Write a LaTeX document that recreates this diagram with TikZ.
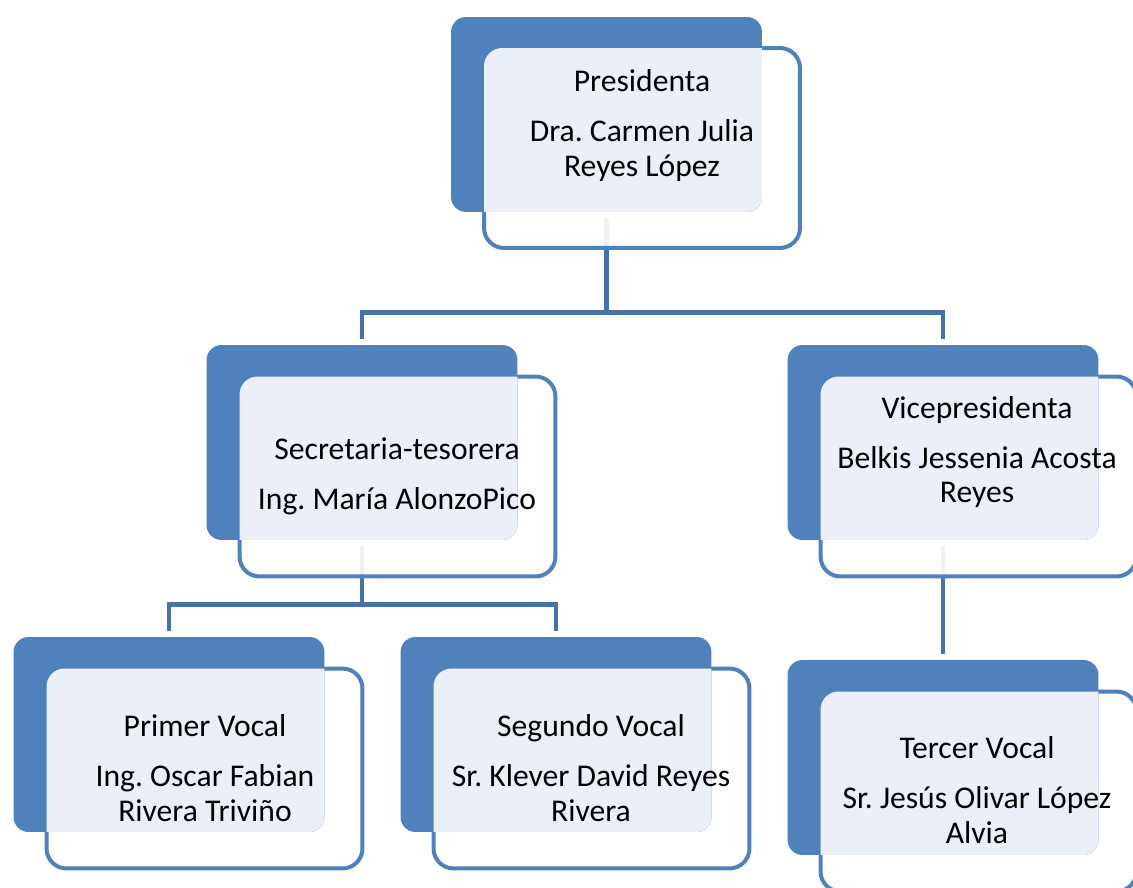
\documentclass[tikz,border=0pt]{standalone}
\usepackage{fontspec}
\setmainfont{Carlito}
\usepackage{tikz}
\usetikzlibrary{positioning,backgrounds,calc}
\definecolor{boxblue}{RGB}{79,129,189}
\definecolor{lightblue}{RGB}{235,240,248}
\definecolor{linkblue}{RGB}{70,114,168}
\frenchspacing
\tikzset{%
  cardback/.style={rectangle, rounded corners=0.3cm, fill=boxblue, inner sep=0pt,
    minimum width=6.22cm, minimum height=3.9cm},% dark card behind
  cardfront/.style={rectangle, rounded corners=0.4cm, draw=boxblue, line width=0.08cm,
    fill=white, fill opacity=0.9, inner sep=0pt,
    minimum width=6.32cm, minimum height=4cm},% framed card in front
  cardtext/.style={align=center, font=\fontsize{18}{19.5}\selectfont},% title and name
  link/.style={draw=linkblue, line width=0.09cm, shorten <=0.12cm, shorten >=0.12cm}% connector
}
\newcommand*{\card}[3]{% name, centre of dark card, centre of framed card
  \node[cardfront] (#1) at #3 {};
  \node[cardback, path picture={\fill[lightblue, rounded corners=0.36cm]
      ([shift={(0.04cm,-0.04cm)}]#1.north west) rectangle ([shift={(-0.04cm,0.04cm)}]#1.south east);}]
    (#1-b) at #2 {};
}

\begin{document}
\begin{tikzpicture}[x=0.02cm, y=-0.02cm]
\useasboundingbox (0,0) rectangle (1133,888);

\card{pres}{(606.5,114.5)}{(642,148)}
\card{sec}{(362,442.5)}{(397.5,476.5)}
\card{vice}{(943,442.5)}{(978.5,476.5)}
\card{pv}{(169,734.5)}{(204.5,768.5)}
\card{sv}{(556,734.5)}{(591.5,768.5)}
\card{ter}{(943,757.5)}{(978.5,791.5)}

\node[cardtext] (pres-t) at (642,125.5) {Presidenta\\[9pt]Dra. Carmen Julia\\Reyes López};
\node[cardtext] (sec-t) at (397,476) {Secretaria-tesorera\\[9pt]Ing. María AlonzoPico};
\node[cardtext] (vice-t) at (977,452) {Vicepresidenta\\[9pt]Belkis Jessenia Acosta\\Reyes};
\node[cardtext] (pv-t) at (205,768) {Primer Vocal\\[9pt]Ing. Oscar Fabian\\Rivera Triviño};
\node[cardtext] (sv-t) at (591,768) {Segundo Vocal\\[9pt]Sr. Klever David Reyes\\Rivera};
\node[cardtext] (ter-t) at (977,790) {Tercer Vocal\\[9pt]Sr. Jesús Olivar López\\Alvia};

\begin{scope}[on background layer]
\draw[link] (pres-b.south) -- ++(0,100) -| (sec-b.north);
\draw[link] (pres-b.south) -- ++(0,100) -| (vice-b.north);
\draw[link] (sec-b.south) -- ++(0,64) -| (pv-b.north);
\draw[link] (sec-b.south) -- ++(0,64) -| (sv-b.north);
\draw[link] (vice-b.south) -- (ter-b.north);
\end{scope}

\end{tikzpicture}
\end{document}
